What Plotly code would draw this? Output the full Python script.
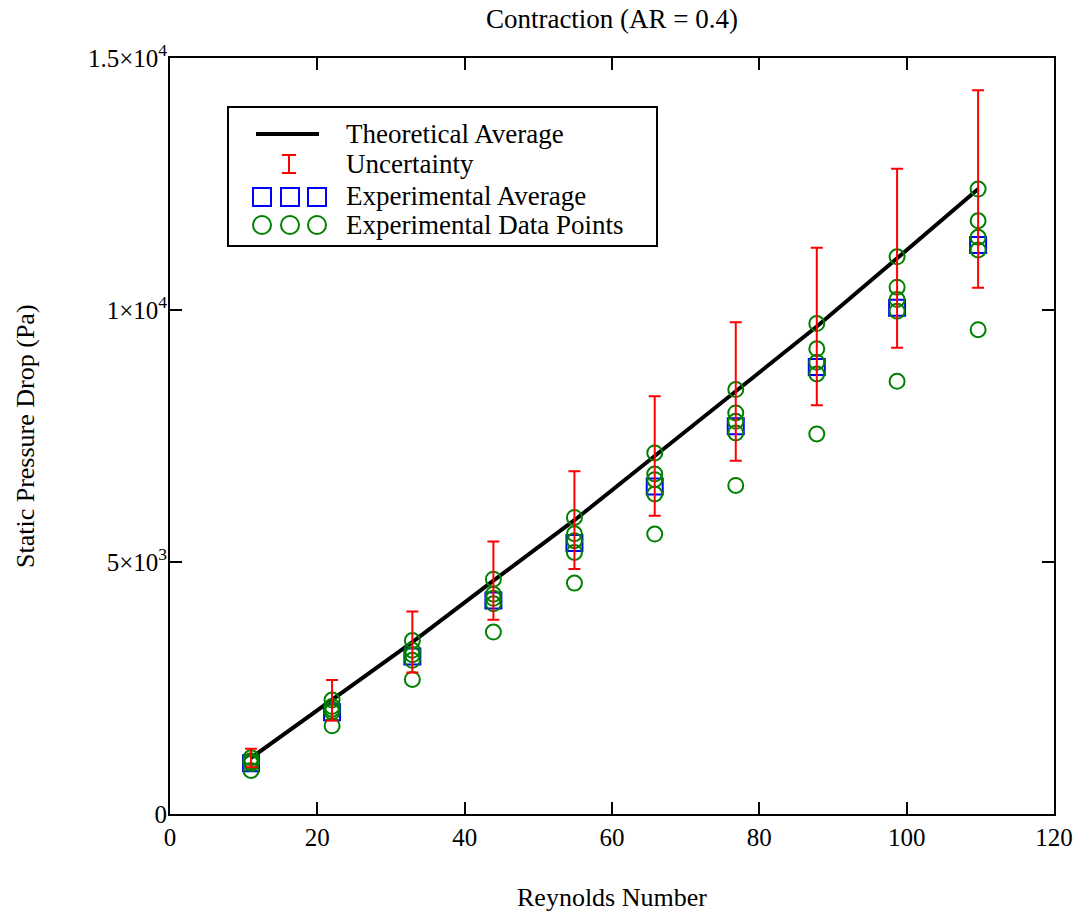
import plotly.graph_objects as go

# ---------------- data ----------------
reynolds = [11.0, 22.0, 32.9, 43.9, 54.9, 65.8, 76.8, 87.8, 98.7, 109.7]
theoretical = [1112, 2257, 3412, 4630, 5829, 7103, 8384, 9672, 11026, 12400]
uncertainty = [185, 404, 606, 778, 970, 1185, 1373, 1563, 1777, 1960]
exp_average = [1007, 2020, 3124, 4236, 5376, 6500, 7692, 8871, 10043, 11289]
run_1 = [1115, 2260, 3440, 4660, 5885, 7164, 8421, 9731, 11056, 12400]
run_2 = [1055, 2135, 3250, 4360, 5561, 6746, 7958, 9229, 10452, 11771]
run_3 = [1025, 2080, 3160, 4280, 5422, 6633, 7791, 8963, 10208, 11442]
run_4 = [1000, 2025, 3050, 4170, 5189, 6349, 7561, 8732, 9976, 11190]
run_5 = [865, 1750, 2670, 3610, 4581, 5555, 6520, 7541, 8585, 9609]

x_ticks = [0, 20, 40, 60, 80, 100, 120]
y_ticks = [0, 5000, 10000, 15000]
y_ticktext = ["0", "5×10<sup>3</sup>", "1×10<sup>4</sup>", "1.5×10<sup>4</sup>"]

legend_labels = ["Theoretical Average", "Uncertainty", "Experimental Average", "Experimental Data Points"]

# ---------------- layout geometry ----------------
W, H = 1088, 915
ML, MR, MT, MB = 170, 34, 58, 101
PW, PH = W - ML - MR, H - MT - MB
FONT = "Liberation Serif, Times New Roman, serif"
FS = 25


def px(xp):
    """window pixel x -> paper"""
    return (xp - ML) / PW


def py(yp):
    """window pixel y -> paper"""
    return (H - MB - yp) / PH


fig = go.Figure()

# theoretical line
fig.add_trace(go.Scatter(x=reynolds, y=theoretical, mode="lines",
                         line=dict(color="black", width=4), showlegend=False,
                         hoverinfo="skip"))
# experimental average
fig.add_trace(go.Scatter(x=reynolds, y=exp_average, mode="markers",
                         marker=dict(symbol="square-open", size=16, color="#0000ff",
                                     line=dict(width=2, color="#0000ff")),
                         showlegend=False))
# experimental data points
for run in [run_1, run_2, run_3, run_4, run_5]:
    fig.add_trace(go.Scatter(x=reynolds, y=run, mode="markers",
                             marker=dict(symbol="circle-open", size=15, color="#008000",
                                         line=dict(width=2, color="#008000")),
                             showlegend=False))
# uncertainty bars
fig.add_trace(go.Scatter(x=reynolds, y=theoretical, mode="markers",
                         marker=dict(size=1, opacity=0),
                         error_y=dict(type="data", array=uncertainty, visible=True,
                                      color="#ff0000", thickness=2, width=6),
                         showlegend=False))

# ---------------- custom legend ----------------
shapes = []
annotations = []
shapes.append(dict(type="rect", xref="paper", yref="paper",
                   x0=px(228), x1=px(657), y0=py(107), y1=py(246),
                   line=dict(color="black", width=2), fillcolor="white", layer="below"))
shapes.append(dict(type="line", xref="paper", yref="paper",
                   x0=px(256), x1=px(319), y0=py(134), y1=py(134),
                   line=dict(color="black", width=4)))
# error bar glyph
shapes.append(dict(type="line", xref="paper", yref="paper",
                   x0=px(289), x1=px(289), y0=py(155), y1=py(173),
                   line=dict(color="#ff0000", width=2)))
for yy in (155, 173):
    shapes.append(dict(type="line", xref="paper", yref="paper",
                       x0=px(282), x1=px(296), y0=py(yy), y1=py(yy),
                       line=dict(color="#ff0000", width=2)))
for cx in (262, 290, 317):
    shapes.append(dict(type="rect", xref="paper", yref="paper",
                       x0=px(cx - 9), x1=px(cx + 9), y0=py(188), y1=py(206),
                       line=dict(color="#0000ff", width=2)))
    shapes.append(dict(type="circle", xref="paper", yref="paper",
                       x0=px(cx - 9), x1=px(cx + 9), y0=py(216), y1=py(234),
                       line=dict(color="#008000", width=2)))
for lab, yy in zip(legend_labels, [134, 164, 196, 225]):
    annotations.append(dict(text=lab, xref="paper", yref="paper", x=px(344), y=py(yy),
                            xanchor="left", yanchor="middle", showarrow=False,
                            font=dict(family=FONT, size=27, color="black")))

# axis titles
annotations.append(dict(text="Reynolds Number", xref="paper", yref="paper",
                        x=0.5, y=py(897), xanchor="center", yanchor="middle",
                        showarrow=False, font=dict(family=FONT, size=26, color="black")))
annotations.append(dict(text="Static Pressure Drop (Pa)", xref="paper", yref="paper",
                        x=px(25), y=0.5, xanchor="center", yanchor="middle", textangle=-90,
                        showarrow=False, font=dict(family=FONT, size=26, color="black")))

axis_common = dict(showgrid=False, zeroline=False, showline=True, linecolor="black",
                   linewidth=2, mirror="ticks", ticks="inside", ticklen=12, tickwidth=2,
                   tickcolor="black", tickfont=dict(family=FONT, size=FS, color="black"))

fig.update_layout(
    width=W, height=H,
    margin=dict(l=ML, r=MR, t=MT, b=MB),
    paper_bgcolor="white", plot_bgcolor="white",
    title=dict(text="Contraction (AR = 0.4)", x=0.5, xref="paper", y=1 - 19 / H,
               yanchor="middle", font=dict(family=FONT, size=27, color="black")),
    xaxis=dict(range=[0, 120], tickvals=x_ticks, **axis_common),
    yaxis=dict(range=[0, 15000], tickvals=y_ticks, ticktext=y_ticktext,
               ticklabelstandoff=-4, **axis_common),
    shapes=shapes,
    annotations=annotations,
    showlegend=False,
)

fig.write_html(
    "out.html",
    config={"displayModeBar": False},
    post_script="document.body.style.margin='0';document.body.style.overflow='hidden';",
)
